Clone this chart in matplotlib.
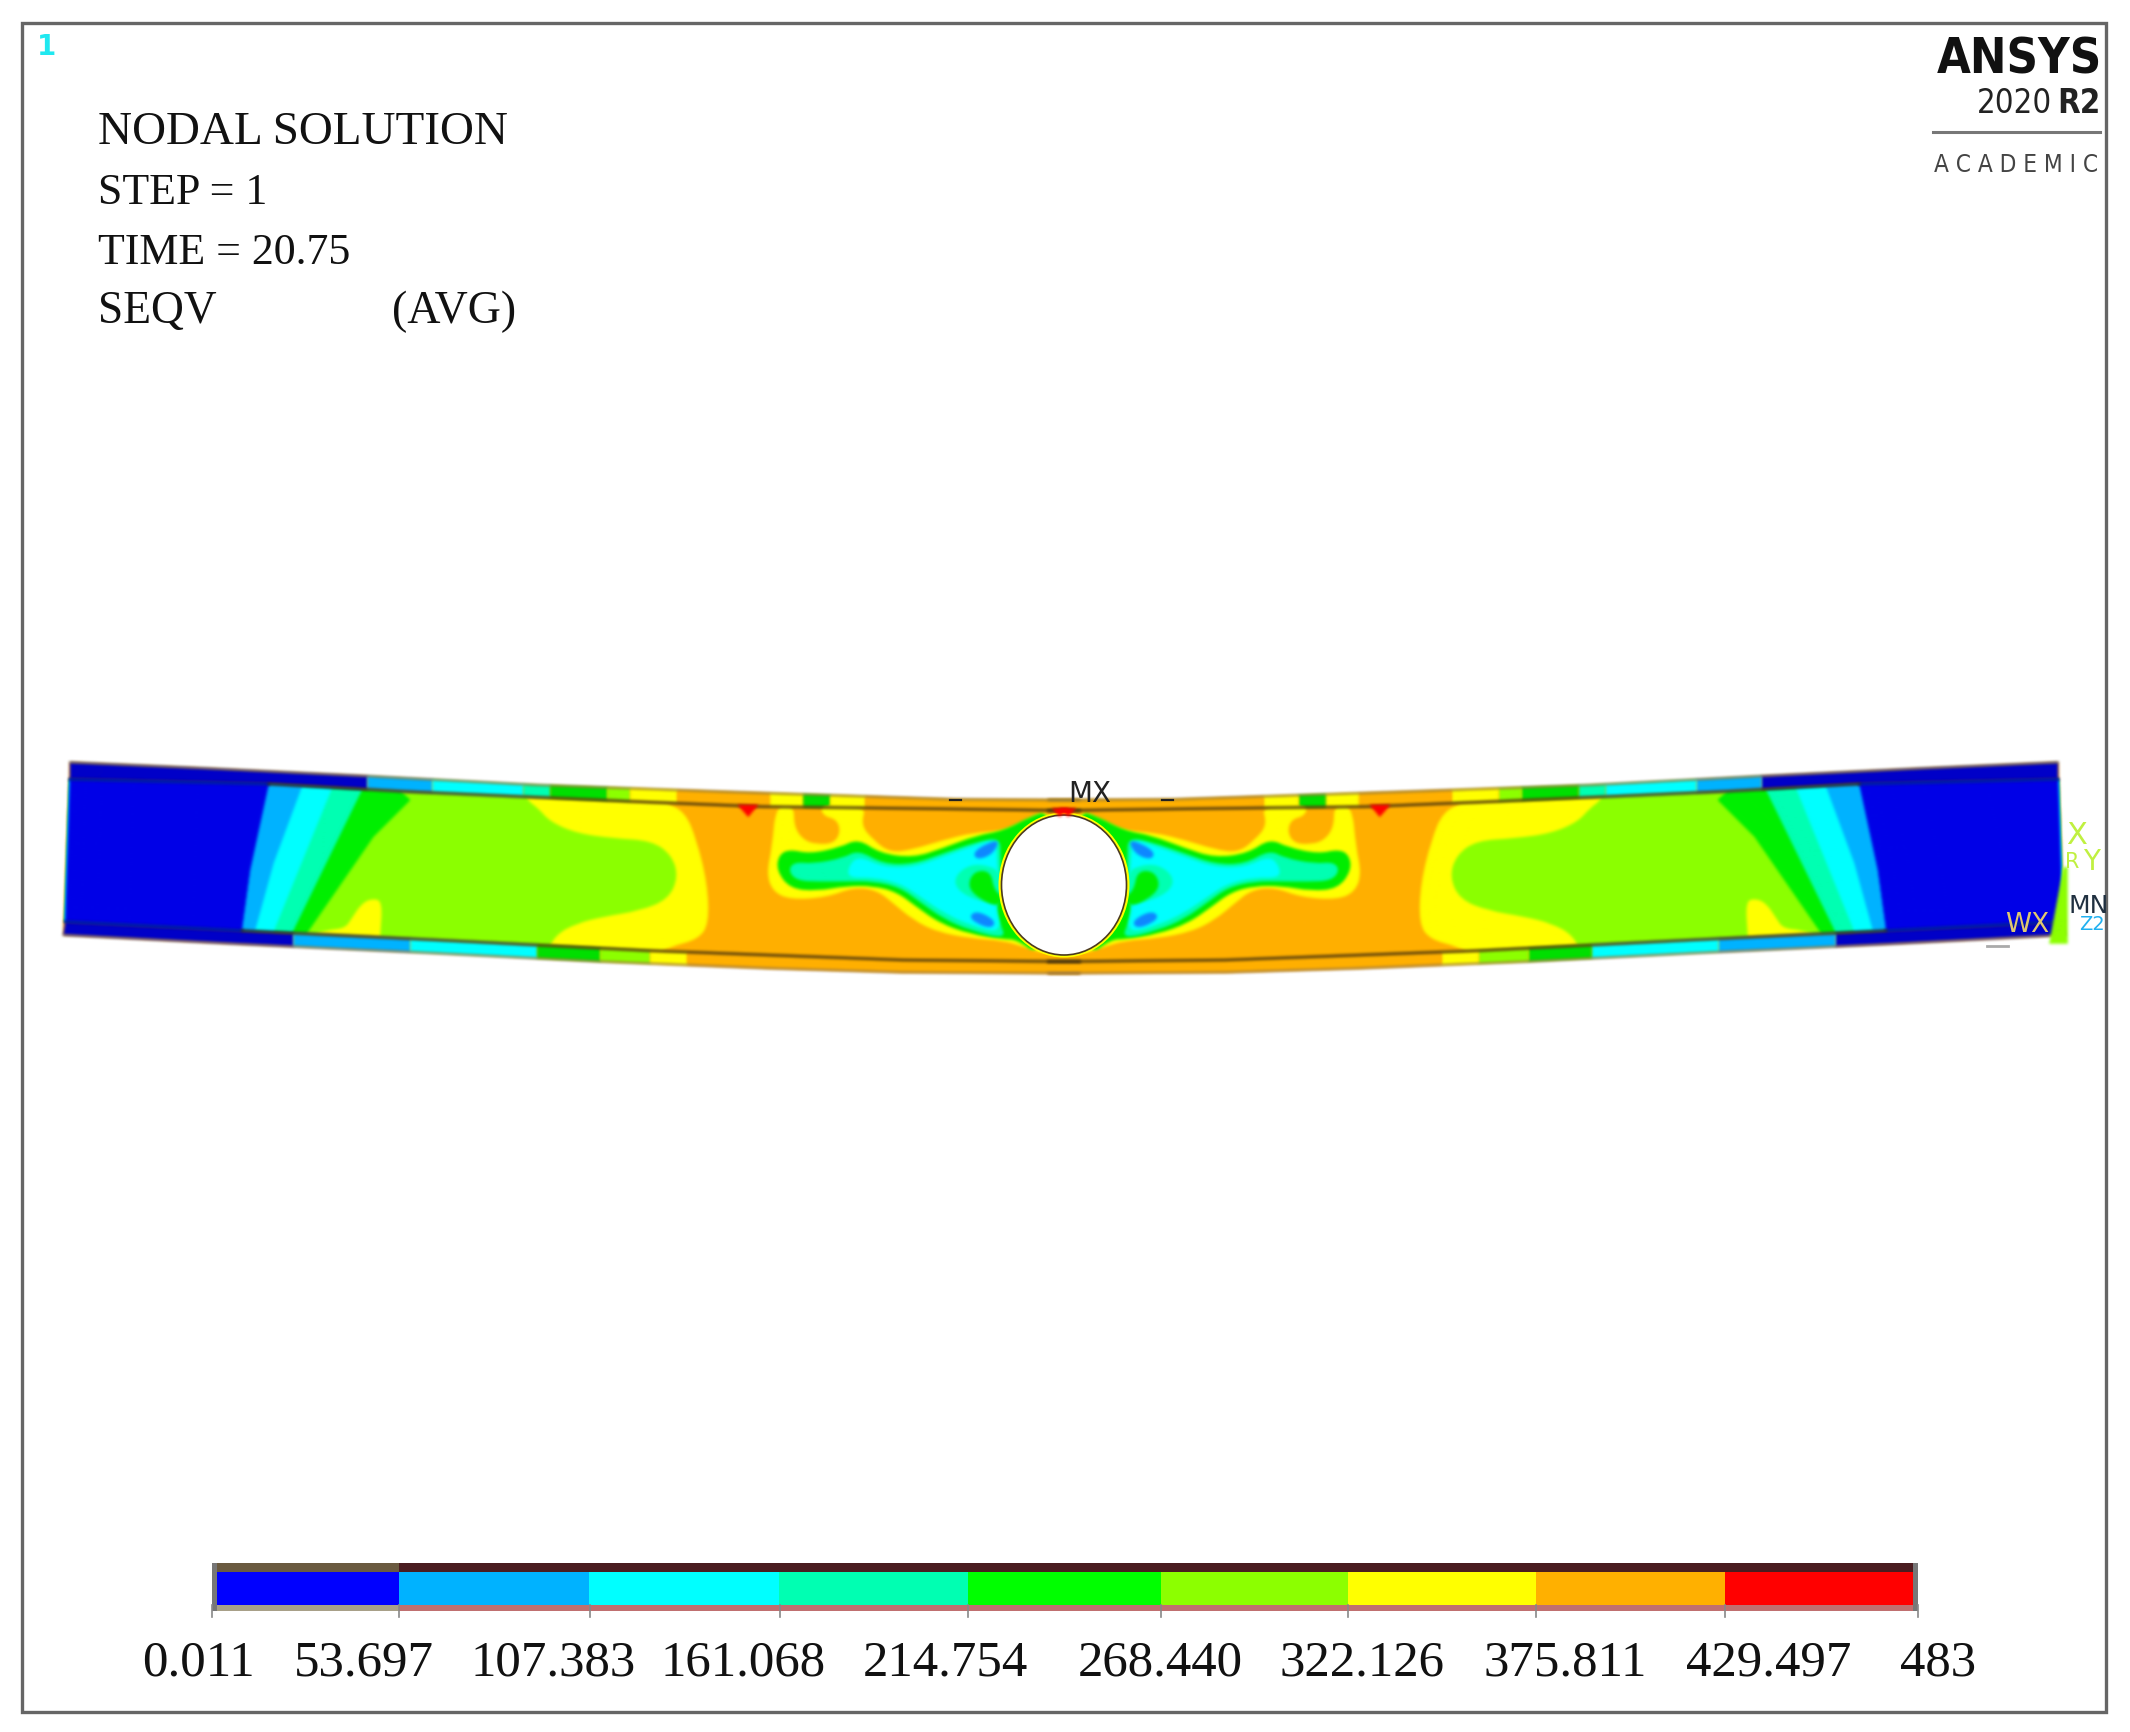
import matplotlib
matplotlib.use('Agg')
import matplotlib.pyplot as plt
import numpy as np
from matplotlib.patches import Polygon, Ellipse, Rectangle, PathPatch
from matplotlib.path import Path

plt.rcParams['font.family'] = ['Liberation Serif', 'DejaVu Serif']

# colour legend
legend_labels = ['0.011', '53.697', '107.383', '161.068', '214.754', '268.440', '322.126', '375.811', '429.497', '483']
label_x = [198, 364, 553, 743, 945, 1160, 1362, 1565, 1769, 1938]
legend_edges = [217, 399, 589, 779, 968, 1161, 1348, 1536, 1725, 1913]
tick_x = [212, 399, 590, 780, 968, 1161, 1348, 1536, 1725, 1918]

BLUE = '#0000FF'
LBLUE = '#00B2FF'
CYAN = '#00FFFF'
AQUA = '#00FFB2'
GREEN = '#00FF00'
LIME = '#8CFF00'
YELLOW = '#FFFF00'
ORANGE = '#FFB000'
RED = '#FF0000'
legend_colors = [BLUE, LBLUE, CYAN, AQUA, GREEN, LIME, YELLOW, ORANGE, RED]

info_lines = ['NODAL SOLUTION', 'STEP = 1', 'TIME = 20.75', 'SEQV']
info_y = [133, 193, 253, 312]
info_size = [33.9, 31.6, 31.6, 32.8]

beam_top = [(45, 67), (250, 85), (490, 108), (750, 135), (1030, 155), (1380, 178), (1568, 180)]
beam_bottom = [(35, 585), (300, 612), (600, 640), (850, 665), (1100, 685), (1300, 697), (1568, 700)]
web_top = [(45, 118), (345, 132), (555, 155), (900, 185), (1090, 200), (1380, 207), (1568, 212)]
web_bottom = [(38, 545), (305, 572), (600, 600), (920, 632), (1300, 660), (1568, 665)]

top_flange_edges = [-700, 410, 605, 880, 960, 1130, 1200, 1340, 1620, 1719, 1800, 1905, 2600]
top_flange_colors = ['#0000C8', LBLUE, CYAN, AQUA, '#00E000', LIME, YELLOW, ORANGE, YELLOW, '#00E000', YELLOW, ORANGE]
bottom_flange_edges = [-700, 190, 540, 920, 1110, 1260, 1370, 2600]
bottom_flange_colors = ['#0000C8', LBLUE, CYAN, '#00E000', LIME, YELLOW, ORANGE]

yellow_web = [(-700, 0), (1200, 30), (1300, 95), (1365, 125), (1400, 210), (1432, 340), (1437, 460), (1405, 508),
              (1320, 530), (1240, 570), (-700, 570)]
lime_web = [(400, 20), (870, 30), (890, 90), (925, 115), (960, 155), (1040, 190), (1150, 205), (1265, 212),
            (1325, 255), (1345, 320), (1315, 388), (1230, 422), (1120, 440), (1040, 460), (975, 495), (945, 560),
            (450, 560), (450, 500), (458, 395), (428, 385), (395, 400), (365, 445), (345, 475), (290, 480),
            (230, 500), (200, 560), (100, 300)]
green_band = [(-700, 0), (510, 0), (510, 62), (540, 90), (430, 200), (230, 490), (230, 570), (-700, 570)]
aqua_band = [(-700, 0), (395, 0), (395, 60), (185, 490), (185, 570), (-700, 570)]
cyan_band = [(-700, 0), (305, 0), (305, 55), (130, 485), (130, 570), (-700, 570)]
lblue_band = [(-700, 0), (215, 0), (215, 50), (130, 280), (75, 480), (75, 570), (-700, 570)]
blue_band = [(-700, 0), (115, 0), (115, 45), (60, 300), (35, 480), (35, 570), (-700, 570)]

# blob next to the hole
blob_yellow = [(18, 45), (72, 45), (72, 110), (100, 150), (140, 163), (192, 160), (212, 125), (200, 88), (160, 78),
               (150, 45), (290, 45), (272, 105), (310, 150), (360, 188), (430, 178), (520, 150), (610, 128),
               (700, 122), (760, 95), (850, 50), (900, 300), (850, 500), (760, 470), (700, 452), (600, 445),
               (500, 425), (430, 390), (370, 340), (320, 300), (250, 292), (170, 322), (60, 329), (8, 304),
               (-10, 250), (6, 172)]
blob_green = [(58, 178), (120, 191), (210, 172), (265, 146), (330, 190), (430, 203), (520, 174), (620, 136),
              (700, 122), (780, 80), (840, 60), (880, 300), (810, 500), (740, 448), (700, 448), (600, 432),
              (510, 400), (440, 351), (380, 306), (310, 288), (230, 288), (140, 303), (60, 296), (20, 242), (26, 195)]
blob_aqua = [(72, 216), (130, 221), (220, 204), (265, 180), (340, 222), (430, 222), (520, 190), (620, 156),
             (690, 142), (692, 200), (692, 320), (678, 345), (690, 400), (708, 447), (600, 421), (520, 386),
             (450, 336), (390, 292), (310, 274), (230, 274), (150, 275), (80, 272), (55, 242)]
blob_cyan = [(235, 230), (265, 197), (340, 232), (430, 232), (520, 200), (620, 164), (675, 150), (682, 200),
             (685, 340), (675, 345), (695, 432), (600, 405), (520, 368), (450, 319), (390, 280), (310, 262), (235, 264)]
patch_aqua = [(552, 260), (600, 222), (662, 228), (692, 250), (692, 342), (628, 335), (562, 302)]
patch_green = [(592, 288), (612, 243), (662, 243), (672, 300), (700, 322), (685, 352), (625, 325)]
patch_blue_up = [(608, 188), (650, 160), (690, 150), (668, 193), (622, 210)]
patch_blue_down = [(597, 378), (622, 362), (678, 392), (665, 416), (618, 400)]
red_spot = [(85, 105), (130, 105), (108, 140)]
red_center = [(805, 115), (842, 115), (825, 140)]
edge_marks = [(560, 90), (585, 90), (1035, 90), (1060, 90)]


def crop1(pts):
    return [(40 + x / 1.508, 740 + y / 3) for x, y in pts]


def crop5(pts):
    return [(700 + x / 2.24, 770 + y / 3) for x, y in pts]


def crop_web(pts):
    return [(230 + x / 3, 770 + y / 3) for x, y in pts]


def crop_blob(pts):
    return [(770 + x / 3, 790 + y / 3) for x, y in pts]


def mirror(pts):
    return [(2128 - x, y) for x, y in pts]


def same(pts):
    return pts


def soft(img, dpi):
    # the contour plot in the paper is a blurry bitmap, so soften the edges of each region
    pad = 4
    alpha = np.pad(img[..., 3], pad)
    for _ in range(3):
        c = np.cumsum(np.pad(alpha, ((2, 1), (0, 0))), axis=0)
        alpha = (c[3:] - c[:-3]) / 3
        c = np.cumsum(np.pad(alpha, ((0, 0), (2, 1))), axis=1)
        alpha = (c[:, 3:] - c[:, :-3]) / 3
    out = np.zeros(alpha.shape + (4,))
    solid = img[img[..., 3] > 0.5]
    rgb = solid[:, :3].mean(axis=0) if len(solid) else img[..., :3].max(axis=(0, 1))
    out[..., :3] = rgb
    out[..., 3] = alpha
    return out, -pad, -pad


fig = plt.figure(figsize=(21.3, 17.32), dpi=100, facecolor='w')
ax = fig.add_axes([0, 0, 1, 1])
ax.set_xlim(0, 2130)
ax.set_ylim(1732, 0)
ax.axis('off')


def fill(pts, color, clip=None, z=2):
    p = Polygon(pts, closed=True, fc=color, ec=color, lw=0.4, zorder=z, agg_filter=soft)
    ax.add_patch(p)
    if clip is not None:
        p.set_clip_path(Polygon(clip, closed=True, transform=ax.transData))
    return p


def fill_round(pts, color, clip=None, z=2):
    # closed curve with the read points as control points
    mid = [((pts[i - 1][0] + pts[i][0]) / 2, (pts[i - 1][1] + pts[i][1]) / 2) for i in range(len(pts))]
    verts = [mid[0]]
    codes = [Path.MOVETO]
    for i in range(len(pts)):
        verts += [pts[i], mid[(i + 1) % len(pts)]]
        codes += [Path.CURVE3, Path.CURVE3]
    p = PathPatch(Path(verts, codes), fc=color, ec='none', zorder=z, agg_filter=soft)
    ax.add_patch(p)
    if clip is not None:
        p.set_clip_path(Polygon(clip, closed=True, transform=ax.transData))
    return p


def segments(edges, colors, clip, flip):
    for i, col in enumerate(colors):
        pts = crop_web([(edges[i], -100), (edges[i + 1], -100), (edges[i + 1], 700), (edges[i], 700)])
        fill(flip(pts), col, flip(clip), z=3)


outline = crop1(beam_top + beam_bottom[::-1])
web = crop1(web_top + web_bottom[::-1])
top_flange = crop1(beam_top + web_top[::-1])
bottom_flange = crop1(web_bottom + beam_bottom[::-1])

for flip in (same, mirror):
    fill(flip(outline), ORANGE)
    fill_round(flip(crop_web(yellow_web)), YELLOW, flip(web))
    fill_round(flip(crop_web(lime_web)), LIME, flip(web))
    for region, col in [(green_band, '#00F000'), (aqua_band, AQUA), (cyan_band, CYAN), (lblue_band, LBLUE),
                        (blue_band, '#0000E8')]:
        fill(flip(crop_web(region)), col, flip(web))
    segments(top_flange_edges, top_flange_colors, top_flange, flip)
    segments(bottom_flange_edges, bottom_flange_colors, bottom_flange, flip)

    for region, col in [(blob_yellow, YELLOW), (blob_green, '#00EE00'), (blob_aqua, AQUA), (blob_cyan, CYAN),
                        (patch_aqua, AQUA), (patch_green, '#00EE00'), (patch_blue_up, '#1088FF'),
                        (patch_blue_down, '#1088FF')]:
        fill_round(flip(crop_blob(region)), col, z=4)
    for region in (red_spot, red_center):
        fill(flip(crop5(region)), RED, z=8)

    # dark lines of the flanges
    for line, col in [(web_top[:2], '#000090'), (web_top[1:], '#3A2A10'), (web_bottom[:2], '#000090'),
                      (web_bottom[1:], '#3A2A10')]:
        xs, ys = zip(*flip(crop1(line)))
        ax.plot(xs, ys, color=col, lw=1.7, zorder=5, agg_filter=soft)
    xs, ys = zip(*flip(crop1(beam_top)))
    ax.plot(xs, ys, color='#60604C', lw=0.9, zorder=5, agg_filter=soft)
    xs, ys = zip(*flip(crop1(beam_bottom)))
    ax.plot(xs, ys, color='#70605C', lw=0.9, zorder=5, agg_filter=soft)

marks = crop5(edge_marks)
for i in (0, 2):
    xs, ys = zip(*marks[i:i + 2])
    ax.plot(xs, ys, color='#222222', lw=1.6, zorder=6)

ax.add_patch(Ellipse((1064, 885), 131, 145, fc=YELLOW, ec='none', zorder=6))
ax.add_patch(Ellipse((1064, 885), 125, 140, fc='w', ec='#4A3A20', lw=1.2, zorder=7))

# outer frame
ax.add_patch(Rectangle((22, 23), 2084, 1689, fc='none', ec='#666666', lw=2.4, zorder=1))

# ansys logo
logo = dict(family='DejaVu Sans', stretch='condensed', ha='right', va='baseline')
ax.text(2102, 73, 'ANSYS', weight='bold', fontsize=35, color='#111111', **logo)
ax.text(2052, 113, '2020', fontsize=23.6, color='#222222', **logo)
ax.text(2101, 113, 'R2', weight='bold', fontsize=23.6, color='#222222', **logo)
ax.plot([1933, 2100], [132, 132], color='#777777', lw=2.2)
ax.text(2098, 172, 'A C A D E M I C', fontsize=17.5, color='#444444', **logo)

ax.text(47, 47, '1', family='DejaVu Sans', weight='bold', fontsize=20, color='#20E8F0', ha='center', va='center')
for line, y, size in zip(info_lines, info_y, info_size):
    ax.text(98, y, line, fontsize=size, va='center', color='#111111')
ax.text(392, info_y[3], '(AVG)', fontsize=33, va='center', color='#111111')

# little marks at the beam
sans = 'DejaVu Sans'
ax.text(1090, 794, 'MX', family=sans, fontsize=20, ha='center', va='center', color='#222222', zorder=9)
ax.text(2077, 835, 'X', family=sans, fontsize=22, ha='center', va='center', color='#C0F040', zorder=9)
ax.text(2092, 862, 'Y', family=sans, fontsize=20, ha='center', va='center', color='#C0F040', zorder=9)
ax.text(2072, 862, 'R', family=sans, fontsize=15, ha='center', va='center', color='#C0F040', zorder=9)
ax.text(2027, 925, 'WX', family=sans, fontsize=19, ha='center', va='center', color='#E0C870', zorder=9)
ax.text(2089, 906, 'MN', family=sans, fontsize=18, ha='center', va='center', color='#203040', zorder=9)
ax.text(2092, 925, 'Z2', family=sans, fontsize=14, ha='center', va='center', color='#20B0F0', zorder=9)
fill([(2063, 867), (2067, 867), (2067, 943), (2049, 943)], LIME, z=6)
ax.plot([1987, 2008], [946, 946], color='#AAAAAA', lw=2)

# colour bar
ax.add_patch(Rectangle((212, 1563), 1706, 9, fc='#4A1C20', ec='none'))
ax.add_patch(Rectangle((212, 1563), 187, 9, fc='#6A5A40', ec='none'))
ax.add_patch(Rectangle((212, 1605), 1706, 6, fc='#C07070', ec='none'))
ax.add_patch(Rectangle((212, 1605), 187, 6, fc='#A8A088', ec='none'))
ax.add_patch(Rectangle((212, 1563), 5, 48, fc='#777777', ec='none'))
ax.add_patch(Rectangle((1913, 1563), 5, 48, fc='#777777', ec='none'))
for i, col in enumerate(legend_colors):
    ax.add_patch(Rectangle((legend_edges[i], 1572), legend_edges[i + 1] - legend_edges[i], 33, fc=col, ec='none'))
for x in tick_x:
    ax.plot([x, x], [1605, 1617], color='#888888', lw=1.2)
for x, lab in zip(label_x, legend_labels):
    ax.text(x, 1663, lab, fontsize=36.6, ha='center', va='center', color='#111111')

fig.savefig('out.png', dpi=100, facecolor='w')
